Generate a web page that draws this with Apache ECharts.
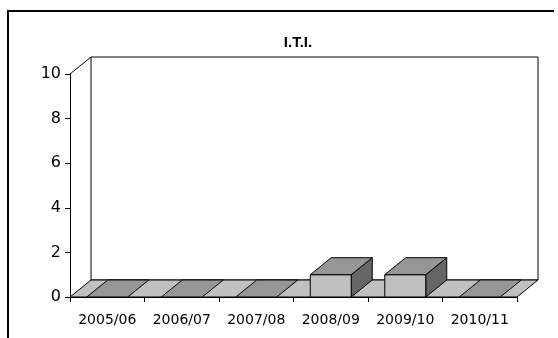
<!DOCTYPE html>
<html>
<head>
<meta charset="utf-8">
<script src="https://cdn.jsdelivr.net/npm/echarts@6/dist/echarts.min.js"></script>
<style>
  html, body { margin: 0; padding: 0; background: #fff; }
  #chart { width: 558px; height: 338px; }
</style>
</head>
<body>
<div id="chart"></div>
<script>
// Academic years and the I.T.I. counts for each
const categories = ['2005/06', '2006/07', '2007/08', '2008/09', '2009/10', '2010/11'];
const values = [0, 0, 0, 1, 1, 0];
const yMin = 0;
const yMax = 10;
const yStep = 2;

// Oblique offset used to fake the 3-D depth of walls and columns
const DX = 21;
const DY = -17;
const BAR_RATIO = 0.55;

const chart = echarts.init(document.getElementById('chart'), null, { renderer: 'canvas' });

function poly(points, fill, z) {
  return {
    type: 'polygon',
    z2: z || 0,
    shape: { points: points },
    style: { fill: fill, stroke: '#000', lineWidth: 1 }
  };
}

// Back wall, floor and the connecting edges of the 3-D box
function renderFrame(params, api) {
  const band = api.size([1, 0])[0];
  const first = api.coord([0, yMin]);
  const last = api.coord([categories.length - 1, yMin]);
  const top = api.coord([0, yMax]);
  const left = first[0] - band / 2;
  const right = last[0] + band / 2;
  const y0 = first[1];
  const yT = top[1];
  return {
    type: 'group',
    children: [
      {
        type: 'rect',
        shape: { x: left + DX, y: yT + DY, width: right - left, height: y0 - yT },
        style: { fill: '#fff', stroke: '#000', lineWidth: 1 }
      },
      {
        type: 'line',
        shape: { x1: left, y1: yT, x2: left + DX, y2: yT + DY },
        style: { stroke: '#000', lineWidth: 1 }
      },
      poly([[left, y0], [right, y0], [right + DX, y0 + DY], [left + DX, y0 + DY]], '#c0c0c0', 1)
    ]
  };
}

// One column: front face, top face and right side face
function renderBar(params, api) {
  const cat = api.value(0);
  const val = api.value(1);
  const band = api.size([1, 0])[0];
  const w = band * BAR_RATIO;
  const base = api.coord([cat, yMin]);
  const head = api.coord([cat, val]);
  const x0 = base[0] - w / 2;
  const x1 = base[0] + w / 2;
  const yb = base[1];
  const yt = head[1];
  const children = [];
  if (yb - yt > 0.5) {
    children.push(poly([[x1, yt], [x1 + DX, yt + DY], [x1 + DX, yb + DY], [x1, yb]], '#666666', 1));
    children.push(poly([[x0, yt], [x1, yt], [x1, yb], [x0, yb]], '#c0c0c0', 2));
  }
  children.push(poly([[x0, yt], [x1, yt], [x1 + DX, yt + DY], [x0 + DX, yt + DY]], '#969696', 3));
  return { type: 'group', children: children };
}

const option = {
  animation: false,
  backgroundColor: '#fff',
  title: {
    text: 'I.T.I.',
    left: 293,
    textAlign: 'center',
    top: 30,
    textStyle: { fontFamily: 'Liberation Sans', fontWeight: 'bold', fontSize: 15, color: '#000' }
  },
  graphic: [
    { type: 'line', shape: { x1: 8, y1: 10, x2: 8, y2: 338 }, style: { stroke: '#000', lineWidth: 2 } },
    { type: 'line', shape: { x1: 7, y1: 11, x2: 554, y2: 11 }, style: { stroke: '#000', lineWidth: 2 } }
  ],
  grid: { left: 70, right: 41, top: 74, bottom: 41, containLabel: false },
  xAxis: {
    type: 'category',
    data: categories,
    boundaryGap: true,
    axisLine: { show: true, lineStyle: { color: '#000', width: 1 } },
    axisTick: { show: true, length: 5, interval: 0, lineStyle: { color: '#000' } },
    axisLabel: { interval: 0, margin: 16, fontFamily: 'DejaVu Sans', fontSize: 14, color: '#000' },
    splitLine: { show: false }
  },
  yAxis: {
    type: 'value',
    min: yMin,
    max: yMax,
    interval: yStep,
    axisLine: { show: true, lineStyle: { color: '#000', width: 1 } },
    axisTick: { show: true, length: 5, lineStyle: { color: '#000' } },
    axisLabel: { margin: 9, fontFamily: 'DejaVu Sans', fontSize: 16, color: '#000' },
    splitLine: { show: false }
  },
  series: [
    {
      name: 'frame',
      type: 'custom',
      z: 1,
      clip: false,
      silent: true,
      renderItem: renderFrame,
      data: [[0, 0]]
    },
    {
      name: 'I.T.I.',
      type: 'custom',
      z: 2,
      clip: false,
      renderItem: renderBar,
      encode: { x: 0, y: 1 },
      data: categories.map((c, i) => [i, values[i]])
    }
  ]
};

chart.setOption(option);
</script>
</body>
</html>
